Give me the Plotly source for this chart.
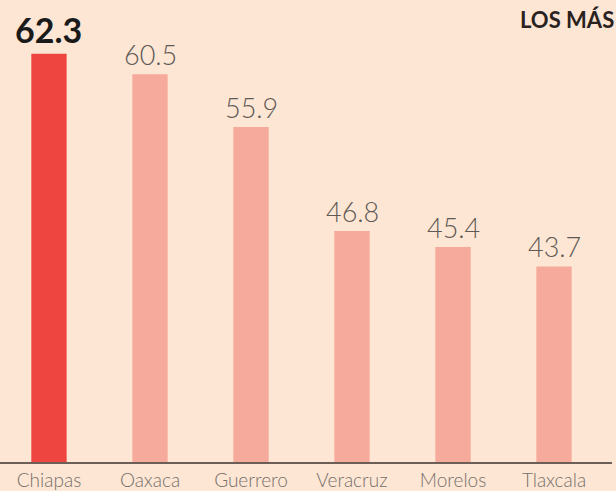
import plotly.graph_objects as go

states = ["Chiapas", "Oaxaca", "Guerrero", "Veracruz", "Morelos", "Tlaxcala"]
values = [62.3, 60.5, 55.9, 46.8, 45.4, 43.7]
bar_colors = ["#ee4540", "#f6aa9c", "#f6aa9c", "#f6aa9c", "#f6aa9c", "#f6aa9c"]
title_text = "LOS MÁS"

bg = "#fde6d4"

fig = go.Figure()
fig.add_trace(go.Bar(
    x=states, y=values, marker=dict(color=bar_colors, line=dict(width=0)),
    width=0.35, hoverinfo="skip",
))

for i, (s, v) in enumerate(zip(states, values)):
    if i == 0:
        fig.add_annotation(x=s, y=v, text="<b>%.1f</b>" % v, showarrow=False,
                           yanchor="bottom", yshift=2,
                           font=dict(family="Lato", size=34, color="#1a1a1a", weight=900))
    else:
        fig.add_annotation(x=s, y=v, text="%.1f" % v, showarrow=False,
                           yanchor="bottom", yshift=1,
                           font=dict(family="Lato", size=27, color="#5e5954", weight=300))

fig.add_annotation(xref="paper", yref="paper", x=1.0, y=1.0, xanchor="right", yanchor="top",
                   xshift=4, yshift=-4, text="<b>" + title_text + "</b>", showarrow=False,
                   font=dict(family="Lato", size=22, color="#2a221e"))

fig.update_layout(
    width=616, height=491,
    margin=dict(l=0, r=4, t=0, b=29),
    paper_bgcolor=bg, plot_bgcolor=bg,
    showlegend=False,
    xaxis=dict(range=[-0.485, 5.574], showline=True, linecolor="#6b5f58", linewidth=2,
               ticks="", showgrid=False, zeroline=False, automargin=False,
               tickfont=dict(family="Lato", size=19, color="#75706b", weight=300)),
    yaxis=dict(range=[26.6, 67.0], visible=False, showgrid=False, zeroline=False,
               automargin=False),
)

fig.write_html("out.html", config={"displayModeBar": False, "staticPlot": True},
               post_script="document.body.style.margin='0';document.body.style.background='%s';" % bg)
